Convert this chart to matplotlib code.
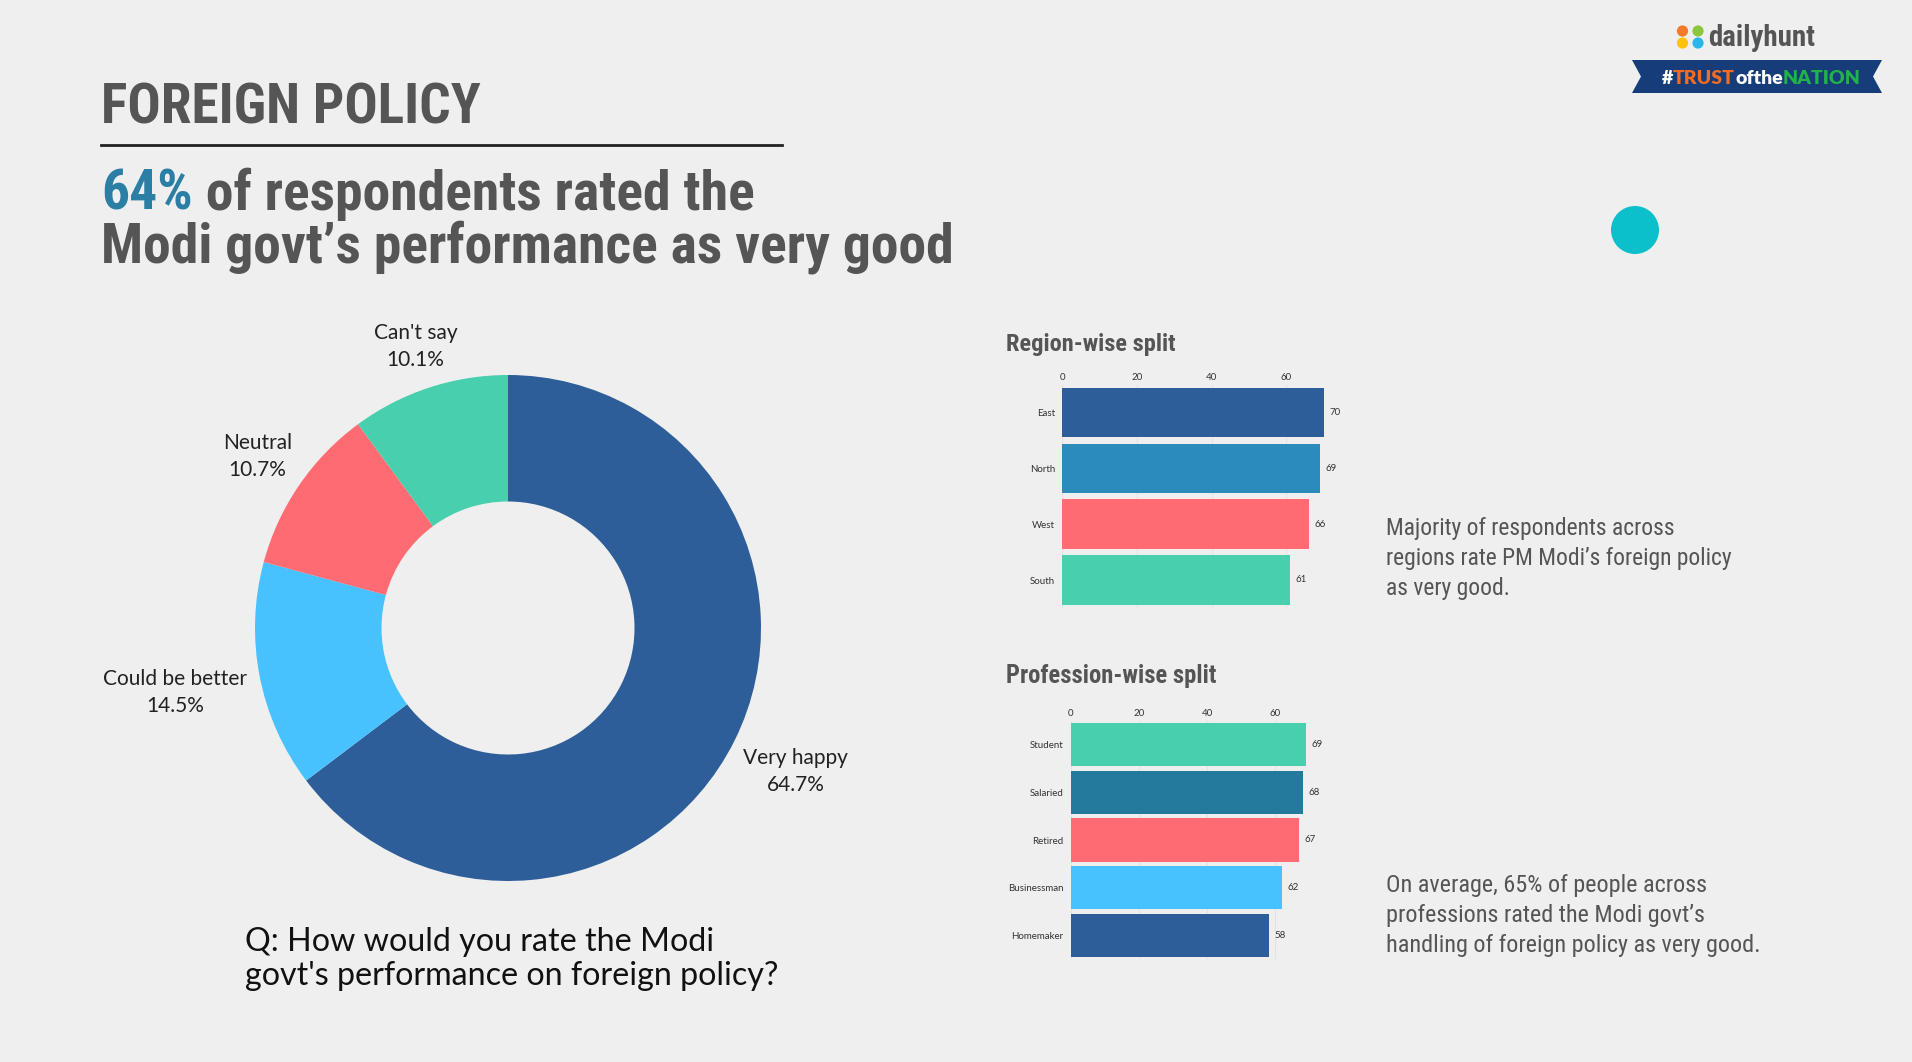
import os
import matplotlib
matplotlib.use('Agg')
import matplotlib.pyplot as plt
import numpy as np
from matplotlib.patches import Polygon, Circle
from matplotlib.lines import Line2D
from matplotlib import font_manager as fm
from matplotlib.font_manager import FontProperties

# ---------------- data ----------------
pie_labels = ["Very happy", "Could be better", "Neutral", "Can't say"]
pie_values = [64.7, 14.5, 10.7, 10.1]

regions = ["East", "North", "West", "South"]
region_values = [70, 69, 66, 61]

professions = ["Student", "Salaried", "Retired", "Businessman", "Homemaker"]
profession_values = [69, 68, 67, 62, 58]

x_ticks = [0, 20, 40, 60]

# ---------------- styles ----------------
pie_colors = ['#2E5E99', '#47C2FF', '#FF6B72', '#48CFAE']
pie_label_dist = [1.27, 1.34, 1.20, 1.17]
region_colors = ['#2E5E99', '#2B8BBA', '#FF6B72', '#48CFAE']
prof_colors = ['#48CFAE', '#237A9C', '#FF6B72', '#47C2FF', '#2E5E99']

W, H = 1912, 1062
BG = '#EFEFEF'
GREY = '#555555'
BODY = ['Lato', 'DejaVu Sans']

_files = {os.path.basename(f.fname).lower(): f.fname for f in fm.fontManager.ttflist}


def pick(cands, fallback_weight):
    for c in cands:
        if c in _files:
            return FontProperties(fname=_files[c])
    return FontProperties(family='DejaVu Sans', stretch='condensed', weight=fallback_weight)


COND_B = pick(['notosans-extracondensedbold.ttf', 'notosans-condensedbold.ttf',
               'robotocondensed-bold.ttf', 'liberationsansnarrow-bold.ttf',
               'dejavusanscondensed-bold.ttf'], 'bold')
COND_R = pick(['notosans-extracondensed.ttf', 'notosans-condensed.ttf',
               'robotocondensed-regular.ttf', 'liberationsansnarrow-regular.ttf',
               'dejavusanscondensed.ttf'], 'normal')

fig = plt.figure(figsize=(W / 100, H / 100), dpi=100, facecolor=BG)
renderer = fig.canvas.get_renderer()


def axes_px(l, t, r, b):
    return fig.add_axes([l / W, 1 - b / H, (r - l) / W, (b - t) / H])


# overlay axes in pixel coordinates
ov = fig.add_axes([0, 0, 1, 1])
ov.set_xlim(0, W)
ov.set_ylim(H, 0)
ov.axis('off')
ov.patch.set_alpha(0)


def fit_lines(x, ys, lines, fp, target_w, color, size0=20.0):
    ts = [ov.text(x, y, s, fontproperties=fp.copy(), fontsize=size0, color=color,
                  ha='left', va='baseline') for y, s in zip(ys, lines)]
    wmax = max(t.get_window_extent(renderer).width for t in ts)
    fs = size0 * target_w / wmax
    for t in ts:
        t.set_fontsize(fs)
    return fs


def chain(x, y, parts, fp, fs):
    t = ov.text(x, y, parts[0][0], color=parts[0][1], ha='left', va='baseline',
                fontproperties=fp.copy(), fontsize=fs)
    for s, c in parts[1:]:
        t = ov.annotate(s, xy=(1, 0), xycoords=t, xytext=(0, 0), textcoords='offset points',
                        color=c, ha='left', va='bottom', fontproperties=fp.copy(), fontsize=fs)
    return t


# ---------------- titles ----------------
fit_lines(101, [124], ["FOREIGN POLICY"], COND_B, 380, GREY)
ov.add_line(Line2D([101, 782], [145, 145], color='#222222', lw=2))
fs_sub = fit_lines(101, [262], ["Modi govt\u2019s performance as very good"], COND_B, 850, GREY)
chain(101, 210, [("64%", '#2B7EA4'), (" of respondents rated the", GREY)], COND_B, fs_sub)

# ---------------- logo ----------------
for (cx, cy), c in zip([(1682.5, 31), (1698, 31), (1682.5, 43), (1698, 43)],
                       ['#F47A2A', '#8CC63F', '#FFC20E', '#29B6E8']):
    ov.add_patch(Circle((cx, cy), 5.6, color=c, lw=0))
fit_lines(1708, [46], ["dailyhunt"], COND_B, 107, GREY)
ov.add_patch(Polygon([(1632, 60), (1882, 60), (1873, 76.5), (1882, 93), (1632, 93), (1641, 76.5)],
                     closed=True, color='#163D7A', lw=0))
chain(1662, 84, [("#", 'white'), ("TRUST", '#F26B21'), ("ofthe", 'white'), ("NATION", '#22B24C')],
      FontProperties(family=BODY, weight='heavy'), 14)

# teal dot
ov.add_patch(Circle((1635, 230), 24, color='#0BBFCB', lw=0))

# ---------------- donut ----------------
cx, cy, R = 508, 628, 253
ax = axes_px(cx - R, cy - R, cx + R, cy + R)
wedges, _ = ax.pie(pie_values, colors=pie_colors, startangle=90, counterclock=False, radius=1,
                   wedgeprops=dict(width=0.5, edgecolor='none'))
ax.set_xlim(-1, 1)
ax.set_ylim(-1, 1)
ax.axis('off')
for w, lab, v, d in zip(wedges, pie_labels, pie_values, pie_label_dist):
    th = np.deg2rad((w.theta1 + w.theta2) / 2)
    ax.text(d * np.cos(th), d * np.sin(th), f"{lab}\n{v}%", ha='center', va='center',
            fontsize=15, family=BODY, color='#222222', linespacing=1.45)

fit_lines(245, [951, 985], ["Q: How would you rate the Modi", "govt's performance on foreign policy?"],
          FontProperties(family=BODY), 534, '#111111')


# ---------------- bar charts ----------------
def bar_panel(axb, cats, vals, cols, h):
    bars = axb.barh(range(len(cats)), vals, height=h, color=cols, zorder=2)
    axb.set_ylim(len(cats) - 0.5, -0.5)
    axb.set_xlim(0, 80)
    axb.set_yticks(range(len(cats)))
    axb.set_yticklabels(cats)
    axb.set_xticks(x_ticks)
    axb.xaxis.tick_top()
    axb.tick_params(axis='both', length=0, labelsize=7, colors='#333333')
    axb.tick_params(axis='x', pad=2)
    axb.tick_params(axis='y', pad=5)
    for lab in axb.get_xticklabels() + axb.get_yticklabels():
        lab.set_family(BODY)
    for s in axb.spines.values():
        s.set_visible(False)
    axb.patch.set_alpha(0)
    axb.grid(axis='x', color='#E2E2E2', lw=0.8, zorder=0)
    axb.set_axisbelow(True)
    axb.bar_label(bars, padding=4, fontsize=7, color='#333333', family=BODY)


fit_lines(1006, [351], ["Region-wise split"], COND_B, 169, GREY)
axr = axes_px(1062, 384.7, 1062 + 80 * 3.74, 607.9)
bar_panel(axr, regions, region_values, region_colors, 0.89)

fit_lines(1006, [683], ["Profession-wise split"], COND_B, 209, GREY)
axp = axes_px(1070.6, 721, 1070.6 + 80 * 3.414, 959)
bar_panel(axp, professions, profession_values, prof_colors, 0.91)

# ---------------- side notes ----------------
fit_lines(1386, [535, 565, 595],
          ["Majority of respondents across", "regions rate PM Modi\u2019s foreign policy", "as very good."],
          COND_R, 346, GREY)
fit_lines(1386, [892, 922, 952],
          ["On average, 65% of people across", "professions rated the Modi govt\u2019s",
           "handling of foreign policy as very good."],
          COND_R, 373, GREY)

fig.savefig('out.png', dpi=100, facecolor=BG)
